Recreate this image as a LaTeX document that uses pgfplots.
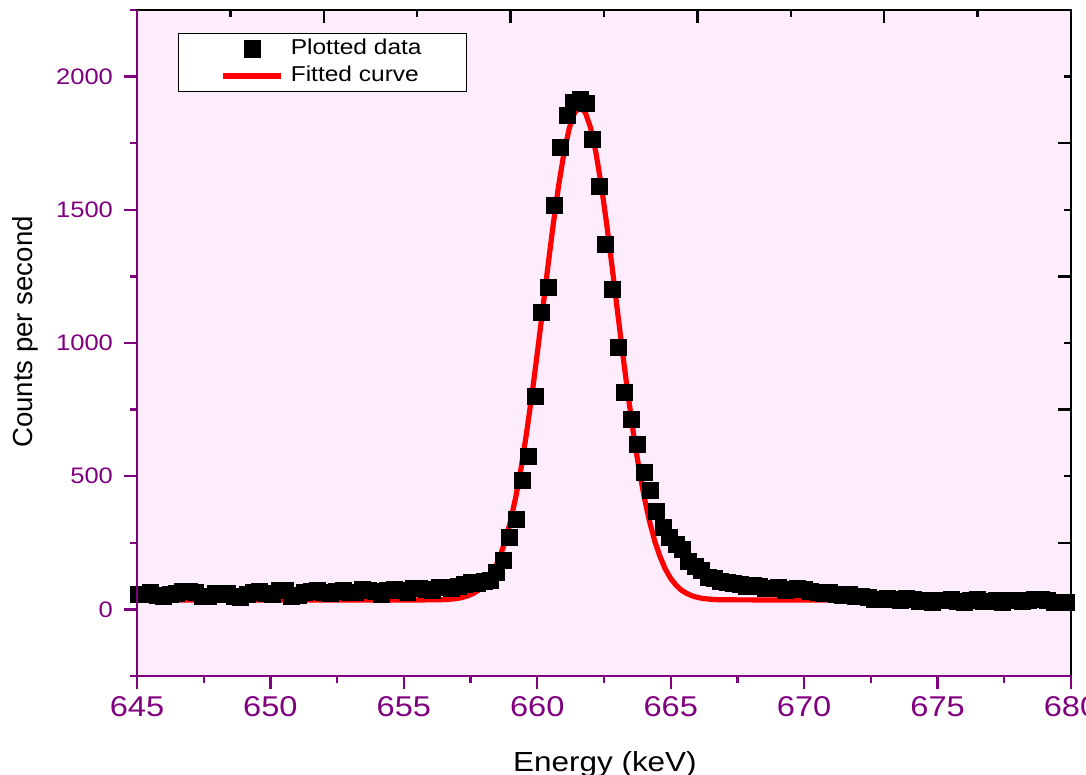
\documentclass[border=0pt]{standalone}
\usepackage{pgfplots}
\pgfplotsset{compat=1.18}
\usepackage{fontspec}
\setmainfont{Liberation Sans}[FakeStretch=1.14]
\newfontfamily\ylabfont{Liberation Sans}
\definecolor{bgpink}{RGB}{252,236,252}
\definecolor{tickpurple}{RGB}{128,0,128}

\pgfplotstableread{
x y
645.04 58
645.28 55
645.52 62
645.76 52
646.00 48
646.24 57
646.48 60
646.72 66
646.96 68
647.20 64
647.44 50
647.68 47
647.92 59
648.16 56
648.40 60
648.64 49
648.88 46
649.12 57
649.36 63
649.60 66
649.84 61
650.08 55
650.32 73
650.56 72
650.80 48
651.04 52
651.28 62
651.52 66
651.76 70
652.00 64
652.24 60
652.48 68
652.72 72
652.96 65
653.20 62
653.44 74
653.68 70
653.92 67
654.16 58
654.40 72
654.64 75
654.88 70
655.12 65
655.36 78
655.60 80
655.84 74
656.08 70
656.32 82
656.56 84
656.80 78
657.04 88
657.28 95
657.52 100
657.76 98
658.00 105
658.24 110
658.48 139
658.72 185
658.96 271
659.20 339
659.44 486
659.68 576
659.92 798
660.16 1115
660.40 1209
660.64 1518
660.88 1733
661.12 1853
661.36 1902
661.60 1913
661.84 1898
662.08 1766
662.32 1586
662.56 1371
662.80 1202
663.04 983
663.28 814
663.52 712
663.76 621
664.00 516
664.24 448
664.48 369
664.72 309
664.96 271
665.20 244
665.44 226
665.68 181
665.92 162
666.16 147
666.40 120
666.64 118
666.88 105
667.12 100
667.36 97
667.60 92
667.84 88
668.08 90
668.32 85
668.56 78
668.80 80
669.04 82
669.28 72
669.52 75
669.76 78
670.00 74
670.24 68
670.48 65
670.72 60
670.96 62
671.20 55
671.44 52
671.68 58
671.92 50
672.16 47
672.40 44
672.64 38
672.88 36
673.12 42
673.36 37
673.60 33
673.84 40
674.08 36
674.32 30
674.56 34
674.80 28
675.04 35
675.28 32
675.52 37
675.76 30
676.00 27
676.24 33
676.48 36
676.72 29
676.96 31
677.20 34
677.44 28
677.68 32
677.92 35
678.16 30
678.40 33
678.64 36
678.88 38
679.12 32
679.36 28
679.60 26
679.84 25
}\measured

\pgfplotstableread{
x y
645.0 35
650.0 35
655.0 35
656.2 36
656.6 37
656.8 39
657.0 41
657.2 45
657.4 51
657.6 60
657.8 72
658.0 91
658.2 116
658.4 151
658.6 198
658.8 257
659.0 333
659.2 425
659.4 535
659.6 663
659.8 806
660.0 961
660.2 1124
660.4 1289
660.6 1447
660.8 1591
661.0 1713
661.2 1807
661.4 1865
661.6 1885
661.8 1865
662.0 1807
662.2 1713
662.4 1591
662.6 1447
662.8 1289
663.0 1124
663.2 961
663.4 806
663.6 663
663.8 535
664.0 425
664.2 333
664.4 257
664.6 198
664.8 151
665.0 116
665.2 91
665.4 72
665.6 60
665.8 51
666.0 45
666.2 41
666.4 39
666.6 37
667.0 36
670.0 35
675.0 35
680.0 35
}\fitted

\begin{document}
\begin{tikzpicture}
\begin{axis}[
  name=main,
  at={(0,0)}, anchor=south west,
  width=467pt, height=333pt, scale only axis,
  xmin=645, xmax=680, ymin=-250, ymax=2250,
  axis background/.style={fill=bgpink},
  xtick={645,650,...,680},
  minor xtick={647.5,652.5,657.5,662.5,667.5,672.5,677.5},
  ytick={0,500,...,2000},
  minor ytick={-250,250,750,1250,1750,2250},
  xtick pos=bottom, ytick pos=left,
  tick align=outside,
  major tick length=6.5pt, minor tick length=3.5pt,
  every tick/.style={tickpurple, line width=1.2pt},
  axis line style={black, line width=1.3pt},
  /pgf/number format/assume math mode=true,
  /pgf/number format/1000 sep={},
  xticklabel style={font=\fontsize{14.3}{16}\selectfont, text=tickpurple},
  yticklabel style={font=\fontsize{11.2}{13}\selectfont, text=tickpurple, xshift=-2pt},
  xlabel={Energy (keV)},
  xlabel style={font=\fontsize{13.8}{16}\selectfont, at={(axis description cs:0.501,-0.143)}, anchor=base},
  ylabel={\ylabfont Counts per second},
  ylabel style={font=\fontsize{13.8}{16}\selectfont, at={(axis description cs:-0.119,0.5165)}, anchor=center},
  legend style={at={(axis description cs:0.0439,0.9655)}, anchor=north west,
    draw=black, line width=0.6pt, fill=white,
    font=\fontsize{10.75}{12}\selectfont,
    inner xsep=21pt, inner ysep=1pt,
    nodes={text height=8pt, text depth=2.5pt, inner sep=1.5pt},
    column sep=2pt},
  legend cell align=left,
]
\addplot[only marks, mark=square*, mark size=4pt, black,
  legend image code/.code={\path[draw=none,fill=none] (0pt,-4pt) rectangle (29pt,4pt); \fill[black] (10.5pt,-4pt) rectangle (18.5pt,4pt);}]
  table[x=x,y=y] {\measured};
\addlegendentry{Plotted data}
\addplot[red, line width=2.6pt, line join=round,
  legend image code/.code={\draw[red, line width=2.6pt] (0pt,0pt) -- (29pt,0pt);}]
  table[x=x,y=y] {\fitted};
\addlegendentry{Fitted curve}
\end{axis}
\begin{axis}[
  at={(0,0)}, anchor=south west,
  width=467pt, height=333pt, scale only axis,
  xmin=645, xmax=680, ymin=-250, ymax=2250,
  xtick={645,652,...,680},
  minor xtick={648.5,655.5,662.5,669.5,676.5},
  ytick={-250,250,...,2250},
  minor ytick={0,500,1000,1500,2000},
  xtick pos=top, ytick pos=right,
  tick align=inside,
  xticklabels={}, yticklabels={},
  major tick length=6.5pt, minor tick length=3.5pt,
  every tick/.style={black, line width=1.2pt},
  axis line style={black, line width=1.3pt},
]
\addplot[draw=none] coordinates {(650,0)};
\end{axis}
\draw[tickpurple, line width=1.3pt] (main.north west) -- (main.south west) -- (main.south east);
\pgfresetboundingbox
\path ([xshift=-68.5pt,yshift=-49.5pt]main.south west) rectangle ([xshift=7.5pt,yshift=5pt]main.north east);
\end{tikzpicture}
\end{document}
